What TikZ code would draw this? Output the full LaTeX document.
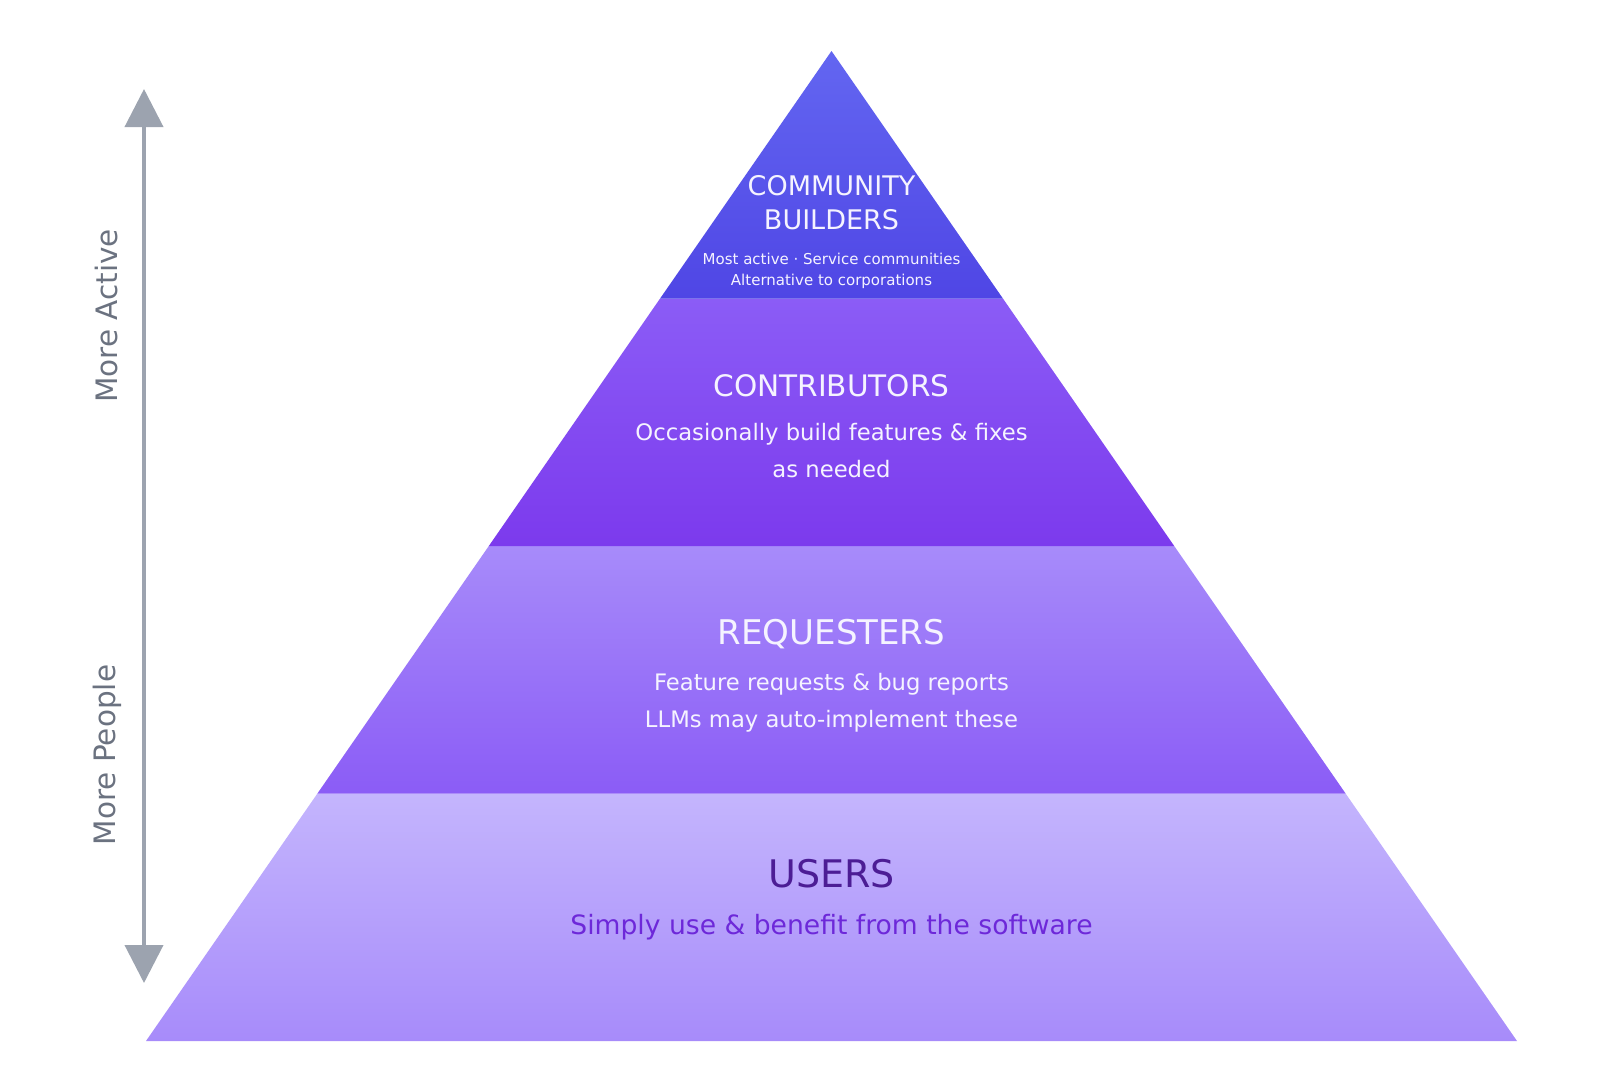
\documentclass[tikz,border=0pt]{standalone}
\usepackage{fontspec}
\setmainfont{DejaVu Sans}
\usetikzlibrary{arrows.meta}
\definecolor{cbTop}{HTML}{6366F1}
\definecolor{cbBot}{HTML}{4F46E5}
\definecolor{coTop}{HTML}{8B5CF6}
\definecolor{coBot}{HTML}{7C3AED}
\definecolor{rqTop}{HTML}{A78BFA}
\definecolor{rqBot}{HTML}{8B5CF6}
\definecolor{usTop}{HTML}{C4B5FD}
\definecolor{usBot}{HTML}{A78BFA}
\definecolor{axisgray}{HTML}{9CA3AF}
\definecolor{labelgray}{HTML}{6B7280}
\definecolor{lighttext}{HTML}{F5F3FF}
\definecolor{usTitle}{HTML}{4C1D95}
\definecolor{usSub}{HTML}{6D28D9}
\tikzset{
  fs/.style n args={2}{font=\fontsize{#1}{#2}\selectfont},
  lighttxt/.style={text=lighttext, anchor=base, align=center, inner sep=0pt},
  darktxt/.style={anchor=base, align=center, inner sep=0pt},
  sidelabel/.style={text=labelgray, rotate=90, inner sep=0pt, font=\fontsize{29.5}{34}\selectfont},
  axis/.style={draw=axisgray, line width=4pt, {Triangle[width=38pt,length=38pt]}-{Triangle[width=38pt,length=38pt]}}
}
\begin{document}
\begin{tikzpicture}[x=1pt,y=-1pt]
\useasboundingbox (0,0) rectangle (1600,1076);
% pyramid corner coordinates
\coordinate (apex) at (831.5,51);
\coordinate (l1) at (660.1,298.5);  \coordinate (r1) at (1002.9,298.5);
\coordinate (l2) at (488.8,546);    \coordinate (r2) at (1174.2,546);
\coordinate (l3) at (317.4,793.5);  \coordinate (r3) at (1345.6,793.5);
\coordinate (l4) at (146,1041);     \coordinate (r4) at (1517,1041);
% layers
\shade[top color=usTop, bottom color=usBot] (l3) -- (r3) -- (r4) -- (l4) -- cycle;
\shade[top color=rqTop, bottom color=rqBot] (l2) -- (r2) -- (r3) -- (l3) -- cycle;
\shade[top color=coTop, bottom color=coBot] (l1) -- (r1) -- (r2) -- (l2) -- cycle;
\shade[top color=cbTop, bottom color=cbBot] (apex) -- (r1) -- (l1) -- cycle;
% texts (base anchor of a two-line node is the baseline of its last line)
\node[lighttxt, fs={27}{34}] (cbT) at (831.5,229.7) {COMMUNITY\\BUILDERS};
\node[lighttxt, fs={15}{21}] (cbS) at (831.5,285.4) {Most active · Service communities\\Alternative to corporations};
\node[lighttxt, fs={29.6}{36}] (coT) at (831.5,396.7) {CONTRIBUTORS};
\node[lighttxt, fs={22.7}{37}] (coS) at (831.5,477.2) {Occasionally build features \& fixes\\as needed};
\node[lighttxt, fs={34}{40}] (rqT) at (831.5,644.2) {REQUESTERS};
\node[lighttxt, fs={22.7}{37}] (rqS) at (831.5,727.2) {Feature requests \& bug reports\\LLMs may auto-implement these};
\node[darktxt, text=usTitle, fs={38}{44}] (usT) at (831.5,887.7) {USERS};
\node[darktxt, text=usSub, fs={26.6}{32}] (usS) at (831.5,934.6) {Simply use \& benefit from the software};
% axis
\coordinate (axTop) at (144,89);
\coordinate (axBot) at (144,983);
\draw[axis] (axBot) -- (axTop);
\node[sidelabel] (active) at (107,316) {More Active};
\node[sidelabel] (people) at (107,755) {More People};
\end{tikzpicture}
\end{document}
